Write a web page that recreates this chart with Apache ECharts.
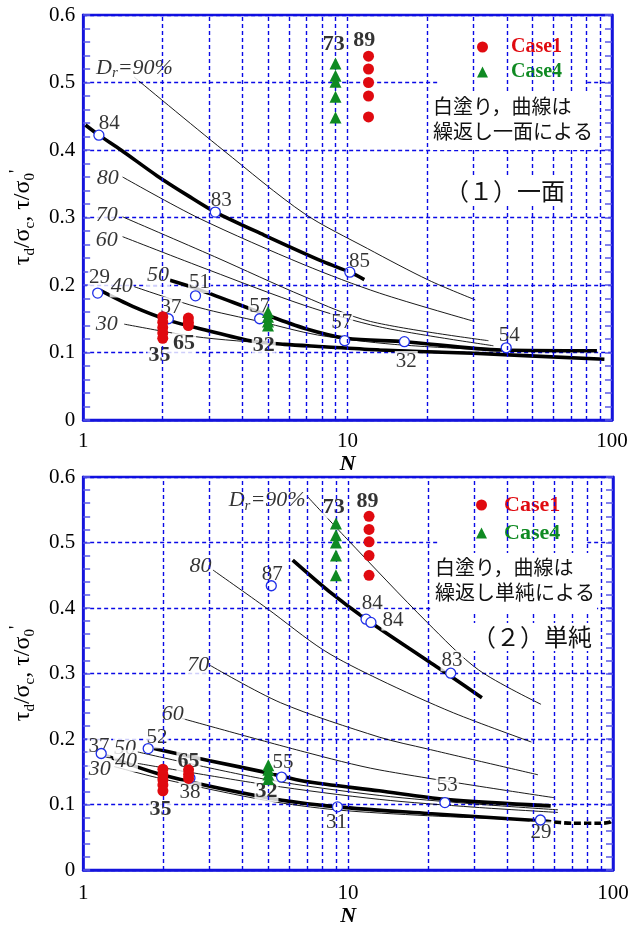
<!DOCTYPE html>
<html><head><meta charset="utf-8">
<script src="https://cdn.jsdelivr.net/npm/echarts@6/dist/echarts.min.js"></script>
<style>html,body{margin:0;padding:0;background:#fff}#c{width:642px;height:928px}</style>
</head><body><div id="c"></div>
<script>
// ================= DATA =================
const xTickLabels = ['1', '10', '100'];
const yTickLabels = ['0', '0.1', '0.2', '0.3', '0.4', '0.5', '0.6'];
const gridXValues = [2, 3, 4, 5, 6, 7, 8, 9, 10, 20, 30, 40, 50, 60, 70, 80, 90];

// ---- Panel (1) 一面 ----
const p1Dr90 = [[1.56,0.508],[3.38,0.40],[6.85,0.306],[11.9,0.254],[20.3,0.207],[30.4,0.178]];
const p1Dr80 = [[1.41,0.360],[2.74,0.299],[6.85,0.230],[13.2,0.188],[30.2,0.146]];
const p1Dr70 = [[1.41,0.301],[3.14,0.242],[6.85,0.183],[12.2,0.146],[34.1,0.1175]];
const p1Dr60 = [[1.41,0.2716],[3.0,0.222],[6.85,0.170],[13.2,0.138],[35.6,0.110]];
const p1Dr40 = [[1.56,0.1975],[2.72,0.167],[4.76,0.145],[7.68,0.126],[15,0.112],[38,0.103]];
const p1Dr30 = [[1.43,0.142],[2.17,0.129],[2.85,0.122],[4.18,0.116],[6.85,0.110],[15,0.104],[35,0.099]];
const p1ThickA = [[1.02,0.437],[1.147,0.422],[1.39,0.400],[1.9,0.362],[2.5,0.332],[3.16,0.308],[4.83,0.274],[8.09,0.2345],[10.2,0.219],[11.57,0.208]];
const p1ThickB = [[2.13,0.207],[2.66,0.195],[4.76,0.158],[6.85,0.136],[9.89,0.121],[16.4,0.116],[38.2,0.1037],[87.7,0.1027]];
const p1ThickC = [[1.16,0.192],[1.546,0.168],[2.1,0.148],[2.9,0.1333],[4.34,0.117],[5.77,0.112],[8.13,0.1086],[13.2,0.1037],[29.8,0.0988],[93.6,0.0899]];
const p1Open = [[1.147,0.422],[3.16,0.308],[10.2,0.219],[1.135,0.188],[2.66,0.184],[2.10,0.150],[4.65,0.150],[9.75,0.1175],[16.4,0.116],[39.8,0.107]];
const p1Case1 = [[2,0.153],[2,0.145],[2,0.137],[2,0.129],[2,0.121],[2.5,0.151],[2.5,0.145],[2.5,0.140],[12,0.539],[12,0.520],[12,0.500],[12,0.480],[12,0.449]];
const p1Case4 = [[9,0.528],[9,0.510],[9,0.501],[9,0.479],[9,0.448],[5,0.160],[5,0.153],[5,0.146],[5,0.140]];
const p1NumLabels = [[1.256,0.4393,'84'],[3.33,0.3252,'83'],[11.09,0.2348,'85'],[1.152,0.2111,'29'],[2.756,0.2037,'51'],[2.148,0.1674,'37'],[4.655,0.1681,'57'],[9.50,0.1444,'57'],[16.67,0.0867,'32'],[40.9,0.1259,'54']];
const p1BoldLabels = [[1.943,0.0963,'35'],[2.408,0.1136,'65'],[4.818,0.1101,'32'],[8.87,0.557,'73'],[11.57,0.563,'89']];
const p1CurveLabels = [[1.24,0.3578,'80'],[1.229,0.3037,'70'],[1.229,0.2659,'60'],[1.921,0.2141,'50'],[1.398,0.1978,'40'],[1.229,0.1422,'30']];
const p1DrLabel = [[1.563,0.5215,'Dr']];

// ---- Panel (2) 単純 ----
const p2Dr90 = [[7.03,0.570],[9.9,0.5055],[19.9,0.378],[31.1,0.3055],[53.5,0.253]];
const p2Dr80 = [[3.09,0.458],[4.92,0.400],[8.1,0.3355],[13.1,0.291],[25,0.240],[49.2,0.1955]];
const p2Dr70 = [[3.0,0.313],[5.56,0.2555],[13.1,0.203],[19.9,0.185],[52.1,0.1455]];
const p2Dr60 = [[2.36,0.2315],[6.83,0.1805],[13.1,0.153],[60,0.1105]];
const p2Dr50 = [[1.6,0.1805],[4.96,0.138],[13.1,0.114],[30,0.101],[62,0.092]];
const p2Dr40 = [[1.6,0.163],[4.96,0.130],[13.1,0.108],[30,0.096],[62,0.088]];
const p2Dr30 = [[1.31,0.158],[2.0,0.139],[4.96,0.106],[9,0.092],[20,0.083],[40,0.078]];
const p2ThickD = [[6.18,0.473],[8.5,0.425],[11.69,0.383],[19.9,0.320],[24.4,0.296],[32,0.263]];
const p2ThickE = [[1.85,0.1855],[3,0.167],[5.03,0.148],[6.83,0.1355],[13.1,0.121],[23.2,0.108],[58.2,0.098]];
const p2ThickF = [[1.12,0.1805],[1.985,0.1455],[4.96,0.1105],[9.12,0.0965],[20,0.0865],[55,0.075]];
const p2ThickFDash = [[55,0.075],[70,0.0715],[90,0.0715],[97,0.073],[100,0.0775]];
const p2Open = [[1.17,0.178],[1.76,0.1855],[5.13,0.434],[11.69,0.383],[12.2,0.378],[24.4,0.3005],[5.61,0.142],[2.53,0.1405],[9.12,0.0965],[23.2,0.103],[53.2,0.0765]];
const p2Case1 = [[2,0.154],[2,0.146],[2,0.138],[2,0.130],[2,0.121],[2.5,0.153],[2.5,0.146],[2.5,0.140],[12,0.540],[12,0.520],[12,0.501],[12,0.480],[12,0.450]];
const p2Case4 = [[9,0.529],[9,0.511],[9,0.500],[9,0.480],[9,0.450],[5,0.160],[5,0.153],[5,0.146],[5,0.139]];
const p2NumLabels = [[1.147,0.1882,'37'],[1.902,0.2017,'52'],[5.176,0.4518,'87'],[12.34,0.4065,'84'],[14.77,0.3817,'84'],[24.7,0.3195,'83'],[5.68,0.1642,'55'],[2.53,0.1192,'38'],[9.04,0.073,'31'],[23.7,0.1293,'53'],[53.5,0.058,'29']];
const p2BoldLabels = [[1.957,0.093,'35'],[2.497,0.1668,'65'],[4.92,0.1205,'32'],[8.83,0.5535,'73'],[11.85,0.563,'89']];
const p2CurveLabels = [[2.775,0.4642,'80'],[2.72,0.313,'70'],[2.18,0.238,'60'],[1.44,0.1867,'50'],[1.45,0.1668,'40'],[1.154,0.1542,'30']];
const p2DrLabel = [[4.95,0.564,'Dr']];

const notes = ['白塗り，曲線は\n繰返し一面による', '白塗り，曲線は\n繰返し単純による'];
const titles = ['（１）一面', '（２）単純'];

// ================= STYLE / BUILD =================
const SERIF = '"Liberation Serif","Times New Roman",serif';
const CJK = '"Noto Sans CJK JP","Noto Sans CJK SC",sans-serif';
const BLUE = '#1414dc';
const GRIDBLUE = '#0a0ae6';
const RED = '#e00a10';
const GREEN = '#0f8a22';

const grids = [
  {left: 76, top: 15, width: 536, height: 405},
  {left: 76, top: 477, width: 537, height: 400}
];

function xAxisFor(gi, margin) {
  return {
    type: 'log', logBase: 10, min: 1, max: 100, gridIndex: gi,
    axisLine: {show: true, lineStyle: {color: BLUE, width: 2.5}},
    axisTick: {show: false},
    splitLine: {show: false},
    axisLabel: {fontFamily: SERIF, fontSize: 21, color: '#000', margin: margin,
      formatter: v => xTickLabels[Math.round(Math.log10(v))]},
    name: 'N', nameLocation: 'middle', nameGap: 29,
    nameTextStyle: {fontFamily: SERIF, fontSize: 22, fontStyle: 'italic', fontWeight: 'bold', color: '#000'}
  };
}
const yRich = {
  t: {fontFamily: SERIF, fontSize: 24, lineHeight: 30, color: '#000', verticalAlign: 'middle'},
  s: {fontFamily: SERIF, fontSize: 15, lineHeight: 15, color: '#000', verticalAlign: 'bottom'},
  p: {fontFamily: SERIF, fontSize: 18, lineHeight: 18, color: '#000', verticalAlign: 'top'}
};
function yAxesFor(gi) {
  const common = {
    type: 'value', min: 0, max: 0.6, interval: 0.1, gridIndex: gi,
    axisLine: {show: true, lineStyle: {color: BLUE, width: 2.5}},
    axisTick: {show: true, inside: true, length: 7, lineStyle: {color: '#5a5ae6', width: 1.5}},
    minorTick: {show: true, splitNumber: 5, length: 7, lineStyle: {color: '#5a5ae6', width: 1.5}}
  };
  return [
    Object.assign({}, common, {
      position: 'left',
      axisLabel: {fontFamily: SERIF, fontSize: 21, color: '#000', margin: 8, padding: [5, 0, 0, 0],
        formatter: v => yTickLabels[Math.round(v * 10)]},
      splitLine: {show: true, lineStyle: {color: GRIDBLUE, type: [4, 3], width: 1.4}},
      name: '{t|τ}{s|d}{t|/σ}{s|c}{t|, τ/σ}{s|0}{p|\'}',
      nameLocation: 'middle', nameRotate: 90, nameGap: 31,
      nameTextStyle: {rich: yRich}
    }),
    Object.assign({}, common, {
      position: 'right',
      axisLabel: {show: false},
      splitLine: {show: false}
    })
  ];
}

function gridLineSeries(gi) {
  return {
    type: 'line', xAxisIndex: gi, yAxisIndex: gi * 2, data: [[1, 0]], symbolSize: 0,
    lineStyle: {opacity: 0}, silent: true, z: 1,
    markLine: {
      silent: true, symbol: ['none', 'none'], label: {show: false}, animation: false,
      lineStyle: {color: GRIDBLUE, type: [4, 3], width: 1.4},
      data: gridXValues.map(v => ({xAxis: v}))
    }
  };
}
function curve(gi, data, thick, dashed) {
  return {
    type: 'line', xAxisIndex: gi, yAxisIndex: gi * 2, data: data,
    smooth: 0.3, symbol: 'none', silent: true, z: 2,
    lineStyle: {color: '#000', width: thick ? 3.6 : 0.9, type: dashed ? [7, 3] : 'solid'}
  };
}
function openCircles(gi, data) {
  return {
    type: 'scatter', xAxisIndex: gi, yAxisIndex: gi * 2, data: data, z: 4, silent: true,
    symbol: 'circle', symbolSize: 10,
    itemStyle: {color: '#fff', borderColor: '#1f2fe8', borderWidth: 1.3, opacity: 1}
  };
}
function caseSeries(gi, name, data) {
  const c1 = name === 'Case1';
  return {
    name: name, type: 'scatter', xAxisIndex: gi, yAxisIndex: gi * 2, data: data, z: 5, silent: true,
    symbol: c1 ? 'circle' : 'triangle', symbolSize: c1 ? 11 : 12,
    itemStyle: {color: c1 ? RED : GREEN, opacity: 1}
  };
}
function textSeries(gi, arr, labelStyle) {
  return {
    type: 'scatter', xAxisIndex: gi, yAxisIndex: gi * 2, z: 3, silent: true,
    symbolSize: 1, itemStyle: {color: 'rgba(0,0,0,0)'},
    data: arr.map(d => ({value: [d[0], d[1]], name: d[2]})),
    label: Object.assign({show: true, position: 'inside', formatter: '{b}', color: '#000',
      backgroundColor: '#fff', padding: [0, 1]}, labelStyle)
  };
}
const numStyle = {fontFamily: SERIF, fontSize: 21};
const boldStyle = {fontFamily: SERIF, fontSize: 22, fontWeight: 'bold'};
const italStyle = {fontFamily: SERIF, fontSize: 22, fontStyle: 'italic'};
const drStyle = {
  formatter: '{i|D}{s|r}{i|=90%}',
  rich: {
    i: {fontFamily: SERIF, fontSize: 22, fontStyle: 'italic', color: '#000', lineHeight: 26, verticalAlign: 'middle'},
    s: {fontFamily: SERIF, fontSize: 15, fontStyle: 'italic', color: '#000', lineHeight: 14, verticalAlign: 'bottom'}
  }
};

const panels = [
  {thin: [p1Dr90, p1Dr80, p1Dr70, p1Dr60, p1Dr40, p1Dr30], thick: [p1ThickA, p1ThickB, p1ThickC], dash: [],
   open: p1Open, c1: p1Case1, c4: p1Case4, num: p1NumLabels, bold: p1BoldLabels, cl: p1CurveLabels, dr: p1DrLabel},
  {thin: [p2Dr90, p2Dr80, p2Dr70, p2Dr60, p2Dr50, p2Dr40, p2Dr30], thick: [p2ThickD, p2ThickE, p2ThickF], dash: [p2ThickFDash],
   open: p2Open, c1: p2Case1, c4: p2Case4, num: p2NumLabels, bold: p2BoldLabels, cl: p2CurveLabels, dr: p2DrLabel}
];

const series = [];
panels.forEach((p, gi) => {
  series.push(gridLineSeries(gi));
  p.thin.forEach(d => series.push(curve(gi, d, false, false)));
  p.thick.forEach(d => series.push(curve(gi, d, true, false)));
  p.dash.forEach(d => series.push(curve(gi, d, true, true)));
  series.push(textSeries(gi, p.num, numStyle));
  series.push(textSeries(gi, p.bold, boldStyle));
  series.push(textSeries(gi, p.cl, italStyle));
  series.push(textSeries(gi, p.dr, drStyle));
  series.push(openCircles(gi, p.open));
  series.push(caseSeries(gi, 'Case1', p.c1));
  series.push(caseSeries(gi, 'Case4', p.c4));
});

const legendData = [
  {name: 'Case1', textStyle: {color: RED}},
  {name: 'Case4', textStyle: {color: GREEN}}
];
const legends = [
  {left: 440, top: 33, orient: 'vertical', selectedMode: false, data: legendData,
   itemWidth: 11, itemHeight: 11, itemGap: 5, padding: [4, 25, 10, 37], backgroundColor: '#fff',
   textStyle: {fontFamily: SERIF, fontWeight: 'bold', fontSize: 20, lineHeight: 20, padding: [0, 0, 0, 18]}},
  {left: 440, top: 493, orient: 'vertical', selectedMode: false, data: legendData,
   itemWidth: 11, itemHeight: 11, itemGap: 6, padding: [1, 27, 8, 36], backgroundColor: '#fff',
   textStyle: {fontFamily: SERIF, fontWeight: 'bold', fontSize: 22, lineHeight: 22, padding: [0, 0, 0, 12]}}
];

const graphic = [
  {type: 'text', x: 430, y: 92, z: 100, silent: true,
   style: {text: notes[0], font: '20px ' + CJK, fill: '#111', lineHeight: 25, backgroundColor: '#fff', padding: [2, 2, 6, 3]}},
  {type: 'text', x: 432, y: 553, z: 100, silent: true,
   style: {text: notes[1], font: '20px ' + CJK, fill: '#111', lineHeight: 25, backgroundColor: '#fff', padding: [2, 2, 6, 3]}},
  {type: 'text', x: 443, y: 177, z: 100, silent: true,
   style: {text: titles[0], font: '24px ' + CJK, fill: '#111', lineHeight: 28, backgroundColor: '#fff', padding: [0, 2, 0, 2]}},
  {type: 'text', x: 470, y: 623, z: 100, silent: true,
   style: {text: titles[1], font: '24px ' + CJK, fill: '#111', lineHeight: 28, backgroundColor: '#fff', padding: [0, 2, 0, 2]}}
];

const chart = echarts.init(document.getElementById('c'), null, {renderer: 'canvas'});
chart.setOption({
  animation: false,
  backgroundColor: '#fff',
  grid: grids.map(g => Object.assign({show: true, borderColor: BLUE, borderWidth: 2.5, backgroundColor: 'transparent'}, g)),
  xAxis: [xAxisFor(0, 11), xAxisFor(1, 13)],
  yAxis: yAxesFor(0).concat(yAxesFor(1)),
  legend: legends,
  graphic: graphic,
  series: series
});
</script>
</body></html>
